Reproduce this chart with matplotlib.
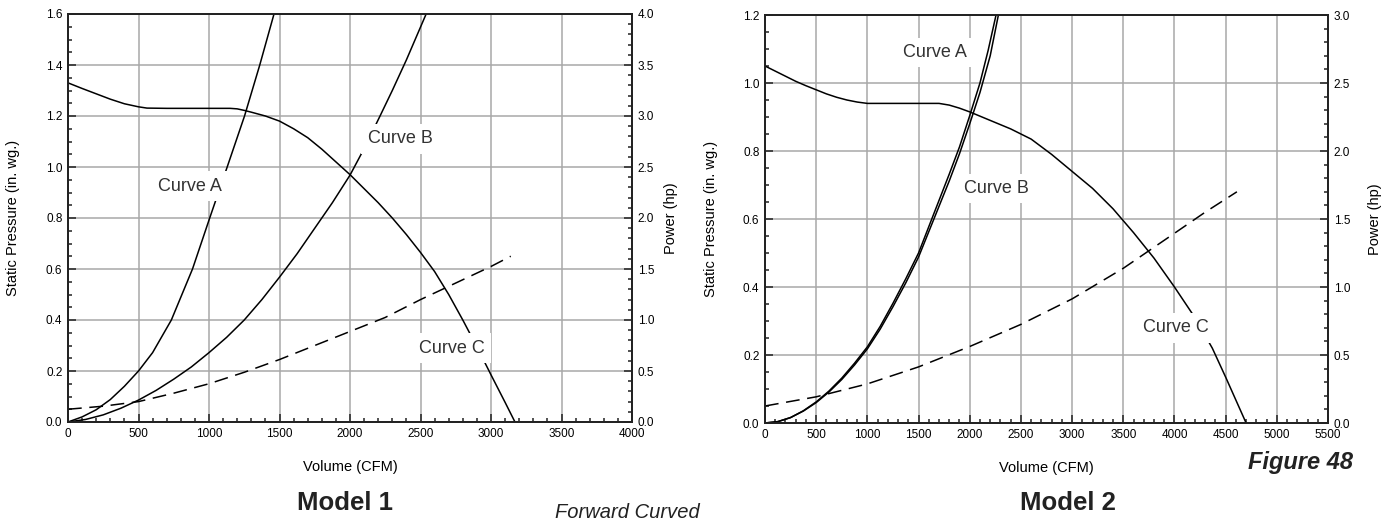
import matplotlib
matplotlib.use("Agg")
import matplotlib.pyplot as plt
from matplotlib.ticker import MultipleLocator, FormatStrFormatter

plt.rcParams['font.family'] = ['Liberation Sans', 'DejaVu Sans']

# ---------------- Model 1 data ----------------
m1_c_cfm = [0, 100, 200, 300, 400, 500, 560, 700, 1000, 1150, 1200, 1250, 1300, 1400, 1500,
            1600, 1700, 1800, 1900, 2000, 2100, 2200, 2300, 2400, 2500, 2600, 2700, 2800,
            2900, 3000, 3100, 3170]
m1_c_sp = [1.33, 1.308, 1.287, 1.266, 1.248, 1.236, 1.231, 1.23, 1.23, 1.23, 1.228, 1.222,
           1.215, 1.20, 1.18, 1.15, 1.115, 1.07, 1.02, 0.97, 0.915, 0.86, 0.80, 0.735, 0.665,
           0.59, 0.50, 0.40, 0.295, 0.185, 0.077, 0.0]

m1_a_cfm = [0, 100, 200, 300, 400, 500, 600, 733, 883, 1005, 1129, 1252, 1360, 1461]
m1_a_hp = [0, 0.05, 0.12, 0.22, 0.35, 0.5, 0.68, 1.0, 1.5, 2.0, 2.5, 3.0, 3.5, 4.0]

m1_b_cfm = [0, 125, 250, 375, 500, 625, 750, 875, 1000, 1125, 1250, 1375, 1500, 1625, 1750,
            1875, 2000, 2100, 2213, 2300, 2400, 2540]
m1_b_hp = [0, 0.025, 0.07, 0.135, 0.215, 0.31, 0.42, 0.54, 0.68, 0.83, 1.0, 1.2, 1.42, 1.65,
           1.9, 2.15, 2.42, 2.68, 3.0, 3.25, 3.55, 4.0]

m1_d_cfm = [0, 250, 500, 750, 1000, 1250, 1500, 1750, 2000, 2250, 2500, 2750, 3000, 3140]
m1_d_sp = [0.05, 0.062, 0.08, 0.113, 0.15, 0.195, 0.245, 0.30, 0.355, 0.41, 0.48, 0.545,
           0.61, 0.65]

# ---------------- Model 2 data ----------------
m2_c_cfm = [0, 100, 200, 300, 400, 500, 600, 700, 800, 900, 1000, 1700, 1800, 1900, 2000,
            2200, 2400, 2600, 2800, 3000, 3200, 3400, 3600, 3800, 4000, 4200, 4370, 4500, 4700]
m2_c_sp = [1.05, 1.035, 1.02, 1.005, 0.992, 0.98, 0.968, 0.958, 0.95, 0.944, 0.94, 0.94,
           0.935, 0.926, 0.915, 0.89, 0.865, 0.835, 0.79, 0.74, 0.69, 0.63, 0.56, 0.485,
           0.40, 0.31, 0.22, 0.135, 0.0]

m2_a_cfm = [0, 125, 250, 375, 500, 625, 750, 875, 1000, 1125, 1250, 1375, 1500, 1650, 1800,
            1900, 2000, 2100, 2180, 2257]
m2_a_hp = [0, 0.01, 0.04, 0.09, 0.155, 0.235, 0.33, 0.44, 0.56, 0.71, 0.88, 1.06, 1.25, 1.54,
           1.83, 2.03, 2.26, 2.5, 2.74, 3.0]

m2_b_cfm = [0, 125, 250, 375, 500, 625, 750, 875, 1000, 1125, 1250, 1375, 1500, 1650, 1800,
            1900, 2000, 2100, 2200, 2280]
m2_b_hp = [0, 0.01, 0.04, 0.088, 0.15, 0.228, 0.32, 0.427, 0.545, 0.69, 0.855, 1.03, 1.22,
           1.5, 1.78, 1.98, 2.2, 2.43, 2.7, 3.0]

m2_d_cfm = [0, 500, 1000, 1500, 2000, 2500, 3000, 3500, 4000, 4300, 4610]
m2_d_sp = [0.05, 0.077, 0.115, 0.165, 0.225, 0.29, 0.365, 0.455, 0.558, 0.62, 0.68]

# label positions (cfm, pressure)
m1_labels = [("Curve A", 865, 0.925), ("Curve B", 2355, 1.11), ("Curve C", 2723, 0.29)]
m2_labels = [("Curve A", 1661, 1.09), ("Curve B", 2257, 0.69), ("Curve C", 4015, 0.28)]

W, H = 1385, 523
fig = plt.figure(figsize=(W / 100, H / 100), dpi=100)

GRID = '#a8a8a8'
TICKFS = 8.5
LABFS = 10.5


def setup(rect, xmax, ymax, y2max, xlab_y, ylab_x, y2lab_x):
    ax = fig.add_axes(rect)
    ax.set_xlim(0, xmax)
    ax.set_ylim(0, ymax)
    ax.xaxis.set_major_locator(MultipleLocator(500))
    ax.xaxis.set_minor_locator(MultipleLocator(100))
    ax.yaxis.set_major_locator(MultipleLocator(0.2))
    ax.yaxis.set_minor_locator(MultipleLocator(0.05))
    ax.yaxis.set_major_formatter(FormatStrFormatter('%.1f'))
    ax.grid(True, which='major', color=GRID, lw=1.1)
    ax.set_axisbelow(True)
    ax.tick_params(which='both', direction='in', labelsize=TICKFS, top=False, right=False,
                   width=1.1, color='#222222')
    ax.tick_params(which='major', length=6, pad=4)
    ax.tick_params(which='minor', length=3)
    for s in ax.spines.values():
        s.set_linewidth(1.3)
        s.set_color('#222222')
    ax.set_xlabel('Volume (CFM)', fontsize=LABFS)
    ax.xaxis.set_label_coords(0.5, xlab_y)
    ax.set_ylabel('Static Pressure (in. wg.)', fontsize=LABFS)
    ax.yaxis.set_label_coords(ylab_x, 0.5)

    ax2 = ax.twinx()
    ax2.set_ylim(0, y2max)
    ax2.yaxis.set_major_locator(MultipleLocator(0.5))
    ax2.yaxis.set_minor_locator(MultipleLocator(0.1))
    ax2.yaxis.set_major_formatter(FormatStrFormatter('%.1f'))
    ax2.tick_params(which='both', direction='in', labelsize=TICKFS, width=1.1, color='#222222')
    ax2.tick_params(which='major', length=6, pad=4)
    ax2.tick_params(which='minor', length=3)
    for s in ax2.spines.values():
        s.set_linewidth(1.3)
        s.set_color('#222222')
    ax2.set_ylabel('Power (hp)', fontsize=LABFS)
    ax2.yaxis.set_label_coords(y2lab_x, 0.5)
    return ax, ax2


LW = 1.1
# Model 1
ax, ax2 = setup([68 / W, 1 - 422 / H, 564 / W, 408 / H], 4000, 1.6, 4.0, -0.093, -0.085, 1.056)
ax2.plot(m1_c_cfm, [v * 2.5 for v in m1_c_sp], color='black', lw=LW)
ax2.plot(m1_a_cfm, m1_a_hp, color='black', lw=LW)
ax2.plot(m1_b_cfm, m1_b_hp, color='black', lw=LW)
ax2.plot(m1_d_cfm, [v * 2.5 for v in m1_d_sp], color='black', lw=LW, dashes=(9, 5))
for t, x, y in m1_labels:
    ax2.text(x, y, t, transform=ax.transData, ha='center', va='center', fontsize=13,
             color='#333333', zorder=10,
             bbox=dict(boxstyle='square,pad=0.35', fc='white', ec='none'))

# Model 2
bx, bx2 = setup([765 / W, 1 - 423 / H, 563 / W, 408 / H], 5500, 1.2, 3.0, -0.093, -0.083, 1.071)
bx2.plot(m2_c_cfm, [v * 2.5 for v in m2_c_sp], color='black', lw=LW)
bx2.plot(m2_a_cfm, m2_a_hp, color='black', lw=LW)
bx2.plot(m2_b_cfm, m2_b_hp, color='black', lw=LW)
bx2.plot(m2_d_cfm, [v * 2.5 for v in m2_d_sp], color='black', lw=LW, dashes=(9, 5))
for t, x, y in m2_labels:
    bx2.text(x, y, t, transform=bx.transData, ha='center', va='center', fontsize=13,
             color='#333333', zorder=10,
             bbox=dict(boxstyle='square,pad=0.35', fc='white', ec='none'))

fig.text(345 / W, 1 - 503 / H, 'Model 1', fontsize=18.5, fontweight='bold', ha='center',
         va='center', color='#222222')
fig.text(1068 / W, 1 - 503 / H, 'Model 2', fontsize=18.5, fontweight='bold', ha='center',
         va='center', color='#222222')
fig.text(627 / W, 1 - 512 / H, 'Forward Curved', fontsize=14.5, fontstyle='italic',
         ha='center', va='center', color='#222222')
fig.text(1300 / W, 1 - 463 / H, 'Figure 48', fontsize=17, fontweight='bold',
         fontstyle='italic', ha='center', va='center', color='#222222')

fig.savefig('out.png', dpi=100)
